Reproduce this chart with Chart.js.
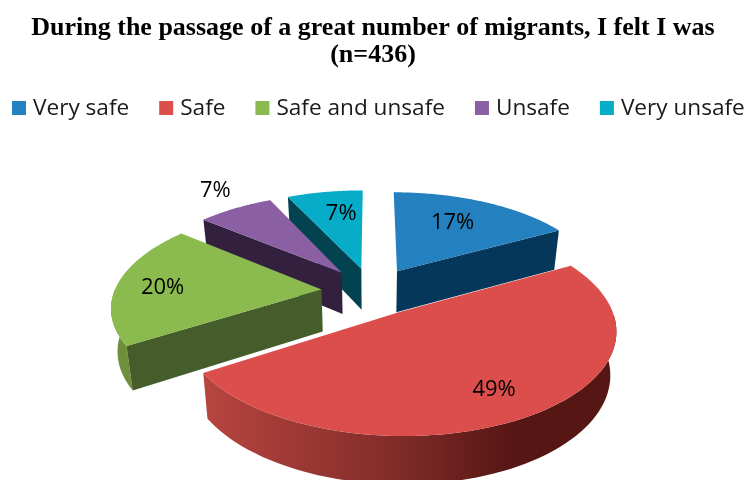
<!DOCTYPE html>
<html>
<head>
<meta charset="utf-8">
<script src="https://cdn.jsdelivr.net/npm/chart.js@4/dist/chart.umd.js"></script>
<style>
  html, body { margin: 0; padding: 0; background: #fff; }
  canvas { display: block; }
</style>
</head>
<body>
<canvas id="chart" width="746" height="480"></canvas>
<script>
// Chart data
const categories = ['Very safe', 'Safe', 'Safe and unsafe', 'Unsafe', 'Very unsafe'];
const percentValues = [17, 49, 20, 7, 7];
const titleLines = ['During the passage of a great number of migrants, I felt I was', '(n=436)'];

// Colours per slice
const topColors = ['#2480BE', '#DC4E4C', '#8BBB4E', '#8A5FA3', '#07ADC8'];
const faceColors = ['#04375A', '#561614', '#455D2A', '#33203F', '#03434F'];
const wallColors = ['#04375A', null, '#6F8F3A', '#33203F', '#03434F'];

// Where each % label sits: fraction across the slice, fraction of the radius
const labelAcross = [0.45, 0.5, 0.495, 0.595, 0.62];
const labelRadius = [0.68, 0.757, 0.778, 1.305, 0.705];

// Fake 3D projection of the pie
const CENTER_X = 372;
const CENTER_Y = 291;
const RADIUS_X = 207;
const RADIUS_Y = 97;
const PERSPECTIVE = 0.157;
const EXPLODE = 0.245;
const DEPTH = 42;
const DRAW_ORDER = [4, 3, 0, 2, 1]; // back to front

const FONT_SANS = "'Open Sans', 'Noto Sans', sans-serif";

function project(u, v) {
  const s = 1 / (1 - PERSPECTIVE * v);
  return { x: CENTER_X + RADIUS_X * u * s, y: CENTER_Y + RADIUS_Y * v * s, s };
}

function dropped(p) {
  return {
    x: CENTER_X + (p.x - CENTER_X) * 0.975,
    y: p.y + DEPTH * (0.35 + 0.65 * p.s),
  };
}

function fillPolygon(ctx, points, fill) {
  ctx.beginPath();
  points.forEach((p, i) => (i ? ctx.lineTo(p.x, p.y) : ctx.moveTo(p.x, p.y)));
  ctx.closePath();
  ctx.fillStyle = fill;
  ctx.fill();
}

function drawSlice(ctx, arc, index) {
  const { startAngle, endAngle } = arc.getProps(['startAngle', 'endAngle'], true);
  const mid = (startAngle + endAngle) / 2;
  const du = EXPLODE * Math.cos(mid);
  const dv = EXPLODE * Math.sin(mid);

  const rim = [];
  const frontRim = [];
  const steps = 80;
  for (let i = 0; i <= steps; i++) {
    const a = startAngle + ((endAngle - startAngle) * i) / steps;
    const p = project(du + Math.cos(a), dv + Math.sin(a));
    rim.push(p);
    if (Math.sin(a) >= 0) frontRim.push(p);
  }
  const apex = project(du, dv);
  const first = rim[0];
  const last = rim[rim.length - 1];

  // outer wall, front part of the rim only
  let wallFill = wallColors[index];
  if (!wallFill) {
    wallFill = ctx.createLinearGradient(209, 0, 613, 0);
    wallFill.addColorStop(0, '#B6443F');
    wallFill.addColorStop(0.5, '#7C2A27');
    wallFill.addColorStop(0.75, '#561614');
    wallFill.addColorStop(1, '#561614');
  }
  if (frontRim.length > 1) {
    fillPolygon(ctx, frontRim.concat(frontRim.map(dropped).reverse()), wallFill);
  }

  // flat cut faces, only the ones turned towards the viewer
  if (Math.cos(startAngle) < 0) {
    fillPolygon(ctx, [apex, first, dropped(first), dropped(apex)], faceColors[index]);
  }
  if (Math.cos(endAngle) > 0) {
    fillPolygon(ctx, [apex, last, dropped(last), dropped(apex)], faceColors[index]);
  }

  // top surface
  fillPolygon(ctx, [apex].concat(rim), topColors[index]);
}

const pie3dPlugin = {
  id: 'pie3d',
  // the flat arcs are replaced by the projected ones
  beforeDatasetDraw(chart, args) {
    const ctx = chart.ctx;
    const arcs = args.meta.data;
    ctx.save();
    DRAW_ORDER.forEach((i) => drawSlice(ctx, arcs[i], i));

    ctx.fillStyle = '#000';
    ctx.font = '22px ' + FONT_SANS;
    ctx.textAlign = 'center';
    ctx.textBaseline = 'middle';
    arcs.forEach((arc, i) => {
      const { startAngle, endAngle } = arc.getProps(['startAngle', 'endAngle'], true);
      const mid = (startAngle + endAngle) / 2;
      const a = startAngle + (endAngle - startAngle) * labelAcross[i];
      const p = project(
        EXPLODE * Math.cos(mid) + labelRadius[i] * Math.cos(a),
        EXPLODE * Math.sin(mid) + labelRadius[i] * Math.sin(a)
      );
      ctx.fillText(percentValues[i] + '%', p.x, p.y + 2);
    });
    ctx.restore();
    return false;
  },
};

// Chart.js legend cannot fit this tight a row, so it is laid out here
const legendRowPlugin = {
  id: 'legendRow',
  afterDraw(chart) {
    const ctx = chart.ctx;
    const y = 109;
    let x = 12;
    ctx.save();
    ctx.font = '22.6px ' + FONT_SANS;
    ctx.textBaseline = 'middle';
    categories.forEach((label, i) => {
      ctx.fillStyle = topColors[i];
      ctx.fillRect(x, y - 8, 14, 14);
      ctx.fillStyle = '#1a1a1a';
      ctx.fillText(label, x + 21, y);
      x += 21 + ctx.measureText(label).width + 30;
    });
    ctx.restore();
  },
};

new Chart(document.getElementById('chart').getContext('2d'), {
  type: 'pie',
  data: {
    labels: categories,
    datasets: [{ data: percentValues, backgroundColor: topColors }],
  },
  options: {
    responsive: false,
    animation: false,
    plugins: {
      legend: { display: false },
      tooltip: { enabled: false },
      title: {
        display: true,
        text: titleLines,
        color: '#000',
        font: { family: "'Liberation Serif', serif", size: 26, weight: 'bold', lineHeight: 1.04 },
        padding: { top: 15, bottom: 10 },
      },
    },
  },
  plugins: [pie3dPlugin, legendRowPlugin],
});
</script>
</body>
</html>
